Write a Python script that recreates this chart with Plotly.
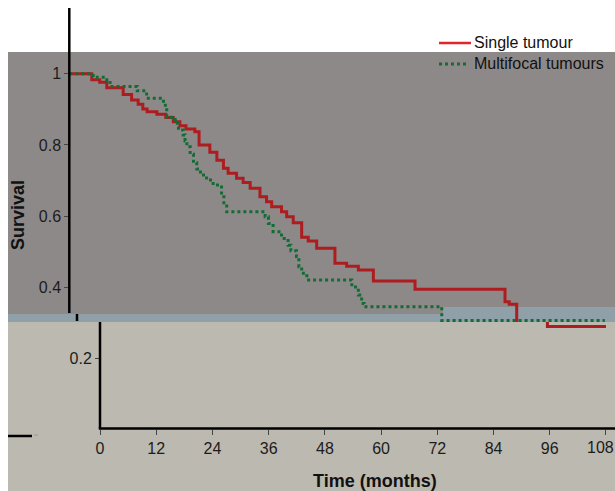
import plotly.graph_objects as go

# ---------------- data (months, survival) ----------------
single_t = [0, 4.8, 6.5, 8.0, 11.5, 13.3, 14.7, 15.7, 16.6, 18.7, 20.6, 22.2, 23.6, 24.9,
            26.8, 27.7, 30.0, 31.5, 32.9, 33.9, 35.7, 37.1, 38.6, 40.7, 42.1, 43.2, 45.3,
            46.4, 47.8, 49.6, 51.0, 52.8, 56.7, 59.2, 61.7, 64.9, 73.8, 93.0, 93.9, 95.5, 108]
single_s = [1.0, 0.983, 0.976, 0.961, 0.942, 0.926, 0.914, 0.901, 0.893, 0.886, 0.877, 0.865,
            0.854, 0.845, 0.837, 0.800, 0.779, 0.757, 0.734, 0.720, 0.706, 0.694, 0.678, 0.654,
            0.640, 0.626, 0.612, 0.598, 0.581, 0.540, 0.530, 0.509, 0.467, 0.459, 0.448, 0.417,
            0.394, 0.359, 0.352, 0.289, 0.289]

multi_t = [0, 5.1, 8.0, 8.7, 14.5, 16.5, 20.1, 20.5, 20.8, 22.6, 23.3, 24.3, 24.7, 25.1, 25.8,
           26.5, 27.2, 28.0, 29.3, 30.7, 32.5, 33.0, 33.6, 41.8, 42.5, 43.5, 45.3, 46.7, 47.3,
           48.5, 49.0, 49.6, 50.7, 60.3, 61.7, 62.4, 62.9, 79.5, 114.3]
multi_s = [1.0, 0.990, 0.980, 0.964, 0.952, 0.931, 0.917, 0.903, 0.878, 0.861, 0.842, 0.828,
           0.811, 0.795, 0.774, 0.750, 0.732, 0.715, 0.701, 0.687, 0.659, 0.637, 0.612, 0.598,
           0.579, 0.556, 0.537, 0.518, 0.502, 0.486, 0.457, 0.439, 0.420, 0.400, 0.378, 0.354,
           0.345, 0.306, 0.306]

x_ticks = [0, 12, 24, 36, 48, 60, 72, 84, 96, 108]
x_ticks_text = ["0", "12", "24", "36", "48", "60", "72", "84", "96", ""]
x_last_label = "108"   # drawn at the right edge so it stays inside the page
y_ticks_upper = [0.4, 0.6, 0.8, 1.0]
y_ticks_upper_text = ["0.4", "0.6", "0.8", "1"]
y_ticks_lower = [0.2]
y_ticks_lower_text = ["0.2"]

series_names = ["Single tumour", "Multifocal tumours"]

# ---------------- geometry helpers (screen pixels) ----------------
SW, SH = 615, 491    # screen
OFF = 0              # page body margin (removed below)
W, H = SW - OFF, SH - OFF
PXM = 4.685          # pixels per month
PXS = 355.5          # pixels per survival unit
Y0 = 429.3           # screen row of survival 0
XU = 69.3            # screen column of month 0, upper panel
XL = 100.0           # screen column of month 0, lower panel
SPLIT = 322          # screen row where panels meet
TOP = 52


def px(x):
    return (x - OFF) / W


def py(y):
    return 1 - (y - OFF) / H


RED = "#ad1c1f"
GREEN = "#136b35"
FONT = "Liberation Sans, Arial, sans-serif"

fig = go.Figure()

# upper panel
fig.add_trace(go.Scatter(x=single_t, y=single_s, mode="lines", line_shape="hv",
                         line=dict(color=RED, width=3), xaxis="x", yaxis="y",
                         showlegend=False, name=series_names[0]))
fig.add_trace(go.Scatter(x=multi_t, y=multi_s, mode="lines", line_shape="hv",
                         line=dict(color=GREEN, width=3, dash="dot"), xaxis="x", yaxis="y",
                         showlegend=False, name=series_names[1]))
# lower panel
fig.add_trace(go.Scatter(x=single_t, y=single_s, mode="lines", line_shape="hv",
                         line=dict(color=RED, width=3), xaxis="x2", yaxis="y2",
                         showlegend=False, name=series_names[0]))
fig.add_trace(go.Scatter(x=multi_t, y=multi_s, mode="lines", line_shape="hv",
                         line=dict(color=GREEN, width=3, dash="dot"), xaxis="x2", yaxis="y2",
                         showlegend=False, name=series_names[1]))

tickfont = dict(family=FONT, size=16, color="#1c1c1c")

fig.update_layout(
    width=W, height=H, autosize=False,
    margin=dict(l=0, r=0, t=0, b=0),
    paper_bgcolor="white", plot_bgcolor="rgba(0,0,0,0)",
    font=dict(family=FONT),
    hovermode=False,
    xaxis=dict(domain=[0, 1], range=[(OFF - XU) / PXM, (SW - XU) / PXM], visible=False,
               anchor="y", fixedrange=True),
    yaxis=dict(domain=[py(SPLIT), py(TOP)], range=[(Y0 - SPLIT) / PXS, (Y0 - TOP) / PXS],
               anchor="free", position=px(XU), tickvals=y_ticks_upper,
               ticktext=y_ticks_upper_text, ticks="outside", ticklen=5, tickwidth=1,
               tickcolor="#444", showgrid=False, zeroline=False, showline=False,
               tickfont=tickfont),
    xaxis2=dict(domain=[0, 1], range=[(OFF - XL) / PXM, (SW - XL) / PXM], anchor="free",
                position=py(Y0 - 0.8), tickvals=x_ticks, ticktext=x_ticks_text,
                ticks="outside", ticklen=5, tickwidth=1, tickcolor="#444", showgrid=False,
                zeroline=False, showline=False, tickfont=tickfont),
    yaxis2=dict(domain=[0, py(SPLIT)], range=[(Y0 - SH) / PXS, (Y0 - SPLIT) / PXS],
                anchor="free", position=px(XL), tickvals=y_ticks_lower,
                ticktext=y_ticks_lower_text, ticks="outside", ticklen=5, tickwidth=1,
                tickcolor="#444", showgrid=False, zeroline=False, showline=False,
                tickfont=tickfont),
)

shapes = []


def rect(x0, y0, x1, y1, color):
    shapes.append(dict(type="rect", xref="paper", yref="paper", x0=px(x0), x1=px(x1),
                       y0=py(y1), y1=py(y0), fillcolor=color, line=dict(width=0),
                       layer="below"))


def line(x0, y0, x1, y1, color="black", width=2.5, dash="solid"):
    shapes.append(dict(type="line", xref="paper", yref="paper", x0=px(x0), x1=px(x1),
                       y0=py(y0), y1=py(y1), line=dict(color=color, width=width, dash=dash),
                       layer="above"))


rect(8, TOP, SW, SPLIT, "#8e8989")
rect(8, 314, SW, SPLIT, "#8fa0a8")
rect(443, 307, SW, 314, "#8fa0a8")
rect(8, SPLIT, SW, SH, "#bcb9b0")

line(XU, 8, XU, 313)
line(77, 314, 77, 321, width=2.5)
line(XL, SPLIT, XL, 428.5)
line(98.8, 428.5, SW, 428.5)
line(8, 436, 32, 436)
line(34, 435, 38, 435, color="#999", width=1)
line(439, 43, 471, 43, color="#e0262a", width=2.5)
line(439, 64, 468, 64, color=GREEN, width=3, dash="dot")

fig.update_layout(shapes=shapes)

ann = []
ann.append(dict(text="<b>Survival</b>", x=px(18), y=py(215), xref="paper", yref="paper",
                showarrow=False, textangle=-90, font=dict(family=FONT, size=18, color="#111"),
                xanchor="center", yanchor="middle"))
ann.append(dict(text="<b>Time (months)</b>", x=px(375), y=py(481), xref="paper", yref="paper",
                showarrow=False, font=dict(family=FONT, size=18, color="#111"),
                xanchor="center", yanchor="middle"))
ann.append(dict(text=series_names[0], x=px(472), y=py(43), xref="paper", yref="paper",
                showarrow=False, font=dict(family=FONT, size=16, color="#111"),
                xanchor="left", yanchor="middle"))
ann.append(dict(text=series_names[1], x=px(472), y=py(64), xref="paper", yref="paper",
                showarrow=False, font=dict(family=FONT, size=16, color="#111"),
                xanchor="left", yanchor="middle"))
ann.append(dict(text=x_last_label, x=px(SW), y=py(447), xref="paper", yref="paper",
                showarrow=False, font=tickfont, xanchor="right", yanchor="middle",
                borderpad=0))
fig.update_layout(annotations=ann)

fig.write_html("out.html",
               config={"displayModeBar": False, "staticPlot": True},
               post_script="document.body.style.margin='0';"
                           "document.body.style.overflow='hidden';")
